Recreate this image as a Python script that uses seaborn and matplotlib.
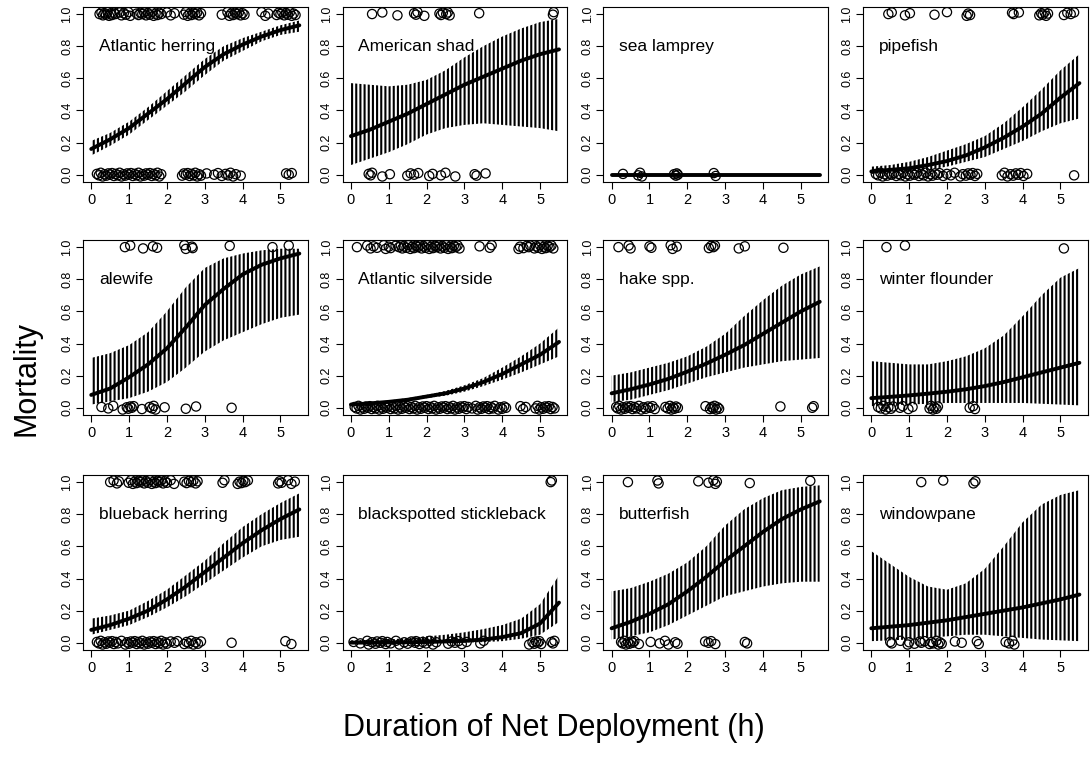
import matplotlib
matplotlib.use("Agg")
import matplotlib.pyplot as plt
import seaborn as sns
import numpy as np
import pandas as pd

# ---------------- data ----------------
species = ["Atlantic herring", "American shad", "sea lamprey", "pipefish",
           "alewife", "Atlantic silverside", "hake spp.", "winter flounder",
           "blueback herring", "blackspotted stickleback", "butterfish", "windowpane"]

grid_x = [0.0, 0.5, 1.0, 1.5, 2.0, 2.5, 3.0, 3.5, 4.0, 4.5, 5.0, 5.5]

fit = {
    "Atlantic herring": [0.16, 0.22, 0.29, 0.38, 0.47, 0.57, 0.67, 0.75, 0.81, 0.86, 0.90, 0.93],
    "American shad": [0.24, 0.28, 0.33, 0.38, 0.44, 0.50, 0.56, 0.61, 0.66, 0.71, 0.75, 0.78],
    "sea lamprey": [0.0, 0.0, 0.0, 0.0, 0.0, 0.0, 0.0, 0.0, 0.0, 0.0, 0.0, 0.0],
    "pipefish": [0.02, 0.03, 0.04, 0.06, 0.085, 0.12, 0.17, 0.23, 0.30, 0.38, 0.48, 0.57],
    "alewife": [0.08, 0.12, 0.19, 0.27, 0.37, 0.50, 0.64, 0.74, 0.83, 0.89, 0.93, 0.96],
    "Atlantic silverside": [0.02, 0.027, 0.037, 0.05, 0.07, 0.09, 0.12, 0.16, 0.21, 0.27, 0.33, 0.41],
    "hake spp.": [0.09, 0.115, 0.145, 0.18, 0.225, 0.275, 0.33, 0.39, 0.46, 0.53, 0.60, 0.66],
    "winter flounder": [0.06, 0.068, 0.077, 0.088, 0.10, 0.115, 0.135, 0.16, 0.19, 0.22, 0.25, 0.28],
    "blueback herring": [0.08, 0.11, 0.15, 0.20, 0.27, 0.35, 0.44, 0.53, 0.62, 0.70, 0.77, 0.83],
    "blackspotted stickleback": [0.001, 0.001, 0.002, 0.003, 0.005, 0.008, 0.012, 0.02, 0.035, 0.06, 0.12, 0.25],
    "butterfish": [0.09, 0.13, 0.18, 0.24, 0.32, 0.41, 0.51, 0.60, 0.69, 0.77, 0.83, 0.88],
    "windowpane": [0.09, 0.10, 0.11, 0.125, 0.14, 0.16, 0.18, 0.20, 0.22, 0.245, 0.27, 0.30],
}
lower = {
    "Atlantic herring": [0.12, 0.18, 0.25, 0.34, 0.43, 0.52, 0.62, 0.71, 0.77, 0.83, 0.87, 0.89],
    "American shad": [0.06, 0.10, 0.14, 0.19, 0.25, 0.29, 0.31, 0.32, 0.31, 0.30, 0.29, 0.27],
    "sea lamprey": [0.0, 0.0, 0.0, 0.0, 0.0, 0.0, 0.0, 0.0, 0.0, 0.0, 0.0, 0.0],
    "pipefish": [0.005, 0.01, 0.02, 0.03, 0.05, 0.08, 0.11, 0.16, 0.21, 0.27, 0.32, 0.35],
    "alewife": [0.02, 0.04, 0.06, 0.10, 0.16, 0.25, 0.35, 0.42, 0.47, 0.52, 0.56, 0.58],
    "Atlantic silverside": [0.015, 0.02, 0.03, 0.04, 0.06, 0.075, 0.10, 0.135, 0.175, 0.22, 0.27, 0.32],
    "hake spp.": [0.035, 0.05, 0.08, 0.11, 0.15, 0.19, 0.22, 0.25, 0.27, 0.29, 0.30, 0.31],
    "winter flounder": [0.01, 0.015, 0.02, 0.025, 0.03, 0.03, 0.03, 0.03, 0.03, 0.025, 0.02, 0.015],
    "blueback herring": [0.05, 0.08, 0.11, 0.16, 0.22, 0.29, 0.37, 0.45, 0.53, 0.60, 0.64, 0.66],
    "blackspotted stickleback": [0.0, 0.0, 0.0, 0.0, 0.0005, 0.001, 0.002, 0.004, 0.01, 0.025, 0.05, 0.13],
    "butterfish": [0.02, 0.04, 0.065, 0.11, 0.17, 0.23, 0.29, 0.32, 0.35, 0.37, 0.38, 0.38],
    "windowpane": [0.01, 0.015, 0.02, 0.03, 0.04, 0.05, 0.05, 0.04, 0.03, 0.02, 0.015, 0.01],
}
upper = {
    "Atlantic herring": [0.21, 0.26, 0.33, 0.42, 0.52, 0.62, 0.72, 0.80, 0.85, 0.89, 0.93, 0.96],
    "American shad": [0.57, 0.56, 0.55, 0.56, 0.59, 0.65, 0.73, 0.80, 0.86, 0.91, 0.95, 0.97],
    "sea lamprey": [0.0, 0.0, 0.0, 0.0, 0.0, 0.0, 0.0, 0.0, 0.0, 0.0, 0.0, 0.0],
    "pipefish": [0.05, 0.06, 0.08, 0.11, 0.15, 0.19, 0.24, 0.32, 0.42, 0.53, 0.65, 0.75],
    "alewife": [0.31, 0.34, 0.39, 0.47, 0.60, 0.75, 0.87, 0.93, 0.96, 0.98, 0.99, 0.99],
    "Atlantic silverside": [0.025, 0.033, 0.045, 0.06, 0.08, 0.105, 0.14, 0.185, 0.25, 0.32, 0.40, 0.50],
    "hake spp.": [0.20, 0.22, 0.25, 0.28, 0.32, 0.38, 0.46, 0.57, 0.67, 0.76, 0.83, 0.88],
    "winter flounder": [0.29, 0.28, 0.27, 0.27, 0.29, 0.32, 0.37, 0.45, 0.57, 0.70, 0.81, 0.87],
    "blueback herring": [0.15, 0.17, 0.20, 0.26, 0.33, 0.42, 0.51, 0.62, 0.72, 0.80, 0.87, 0.93],
    "blackspotted stickleback": [0.015, 0.018, 0.02, 0.03, 0.04, 0.05, 0.065, 0.085, 0.11, 0.15, 0.24, 0.42],
    "butterfish": [0.32, 0.34, 0.38, 0.43, 0.50, 0.60, 0.73, 0.83, 0.90, 0.95, 0.97, 0.98],
    "windowpane": [0.57, 0.49, 0.41, 0.35, 0.33, 0.37, 0.46, 0.60, 0.75, 0.86, 0.92, 0.95],
}

# observed durations of dead (1) and live (0) fish
dead = {
    "Atlantic herring": [0.22, 0.27, 0.31, 0.35, 0.39, 0.43, 0.47, 0.51, 0.55, 0.6, 0.64, 0.75, 0.8, 0.86, 0.92,
                         0.98, 1.03, 1.2, 1.25, 1.3, 1.35, 1.4, 1.45, 1.5, 1.55, 1.6, 1.65, 1.7, 1.75, 1.8, 1.85,
                         2.0, 2.1, 2.2, 2.45, 2.5, 2.55, 2.6, 2.65, 2.7, 2.75, 2.8, 2.85, 2.9, 3.45, 3.6, 3.65,
                         3.7, 3.75, 3.8, 3.85, 3.9, 3.95, 4.0, 4.05, 4.5, 4.6, 4.68, 4.9, 4.95, 5.0, 5.05, 5.1,
                         5.15, 5.2, 5.25, 5.3, 5.35, 5.4],
    "American shad": [0.56, 0.83, 1.23, 1.67, 1.72, 1.76, 1.94, 2.34, 2.38, 2.43, 2.52, 2.56, 2.61, 3.39, 5.34, 5.36],
    "sea lamprey": [],
    "pipefish": [0.45, 0.54, 0.89, 1.02, 1.67, 2.0, 2.52, 2.56, 2.61, 3.72, 3.76, 3.9, 4.44, 4.49, 4.53, 4.58,
                 4.62, 4.67, 5.09, 5.18, 5.27, 5.36],
    "alewife": [0.89, 1.03, 1.37, 1.63, 1.74, 2.46, 2.5, 2.66, 2.68, 3.66, 4.79, 5.22],
    "Atlantic silverside": [0.16, 0.43, 0.52, 0.6, 0.69, 0.87, 0.92, 1.0, 1.05, 1.18, 1.27, 1.32, 1.36, 1.4, 1.47,
                            1.52, 1.57, 1.62, 1.67, 1.72, 1.77, 1.82, 1.87, 1.92, 1.97, 2.02, 2.07, 2.12, 2.17,
                            2.22, 2.27, 2.32, 2.37, 2.42, 2.47, 2.52, 2.57, 2.62, 2.67, 2.72, 2.77, 2.82, 2.87,
                            3.4, 3.67, 3.72, 4.43, 4.47, 4.56, 4.65, 4.7, 4.74, 4.85, 4.9, 4.95, 5.0, 5.05, 5.1,
                            5.15, 5.2, 5.25, 5.3, 5.35],
    "hake spp.": [0.18, 0.45, 0.5, 1.0, 1.05, 1.56, 1.61, 1.72, 2.57, 2.63, 2.69, 2.73, 3.36, 3.52, 4.54],
    "winter flounder": [0.4, 0.89, 5.09],
    "blueback herring": [0.5, 0.59, 0.68, 0.73, 0.99, 1.05, 1.1, 1.15, 1.2, 1.25, 1.3, 1.35, 1.4, 1.45, 1.5, 1.55,
                         1.6, 1.65, 1.7, 1.75, 1.8, 1.85, 1.9, 1.95, 2.0, 2.1, 2.19, 2.46, 2.52, 2.58, 2.64,
                         2.7, 2.76, 2.81, 3.47, 3.52, 3.87, 3.92, 3.97, 4.02, 4.07, 4.14, 4.94, 4.98, 5.03,
                         5.2, 5.29, 5.38],
    "blackspotted stickleback": [5.28, 5.31],
    "butterfish": [0.43, 1.21, 1.24, 2.29, 2.56, 2.69, 2.74, 2.78, 3.65, 5.25],
    "windowpane": [1.32, 1.9, 2.7, 2.75],
}
alive = {
    "Atlantic herring": [0.15, 0.2, 0.25, 0.3, 0.35, 0.4, 0.45, 0.5, 0.55, 0.6, 0.65, 0.7, 0.75, 0.8, 0.85, 0.9,
                         0.95, 1.0, 1.05, 1.1, 1.15, 1.2, 1.25, 1.3, 1.35, 1.4, 1.45, 1.5, 1.55, 1.6, 1.65, 1.7,
                         1.75, 1.8, 1.85, 2.4, 2.45, 2.5, 2.55, 2.6, 2.65, 2.7, 2.75, 2.8, 2.85, 2.9, 3.05, 3.25,
                         3.35, 3.45, 3.55, 3.62, 3.68, 3.75, 3.82, 3.95, 5.15, 5.22, 5.3],
    "American shad": [0.47, 0.52, 0.56, 0.83, 1.03, 1.49, 1.58, 1.67, 1.78, 2.07, 2.16, 2.38, 2.5, 2.76, 3.27,
                      3.32, 3.56],
    "sea lamprey": [0.3, 0.7, 0.75, 0.8, 1.65, 1.7, 1.72, 1.75, 2.7, 2.75],
    "pipefish": [0.12, 0.18, 0.24, 0.3, 0.36, 0.42, 0.48, 0.54, 0.6, 0.66, 0.72, 0.78, 0.84, 0.9, 0.96, 1.02,
                 1.08, 1.14, 1.2, 1.26, 1.32, 1.38, 1.44, 1.5, 1.56, 1.62, 1.68, 1.74, 1.8, 1.9, 2.0, 2.1, 2.2,
                 2.35, 2.42, 2.5, 2.56, 2.62, 2.68, 2.74, 2.8, 3.45, 3.52, 3.6, 3.68, 3.75, 3.82, 3.88, 3.95,
                 4.02, 4.12, 5.36],
    "alewife": [0.27, 0.45, 0.58, 0.83, 0.94, 0.98, 1.03, 1.07, 1.12, 1.34, 1.54, 1.61, 1.65, 1.7, 1.94, 2.5,
                2.77, 3.71],
    "Atlantic silverside": [0.1, 0.15, 0.2, 0.25, 0.3, 0.35, 0.4, 0.45, 0.5, 0.55, 0.6, 0.65, 0.7, 0.75, 0.8,
                            0.85, 0.9, 0.95, 1.0, 1.05, 1.1, 1.15, 1.2, 1.25, 1.3, 1.35, 1.4, 1.45, 1.5, 1.55,
                            1.6, 1.65, 1.7, 1.75, 1.8, 1.85, 1.9, 1.95, 2.0, 2.05, 2.1, 2.15, 2.2, 2.25, 2.3,
                            2.35, 2.4, 2.45, 2.5, 2.55, 2.6, 2.65, 2.7, 2.75, 2.8, 2.85, 2.9, 2.95, 3.0, 3.05,
                            3.1, 3.2, 3.3, 3.35, 3.4, 3.45, 3.5, 3.55, 3.6, 3.65, 3.7, 3.75, 3.8, 3.9, 3.95,
                            4.0, 4.05, 4.1, 4.48, 4.55, 4.62, 4.88, 4.93, 4.98, 5.03, 5.08, 5.13, 5.18, 5.23,
                            5.28, 5.33, 5.38],
    "hake spp.": [0.12, 0.16, 0.2, 0.25, 0.3, 0.35, 0.4, 0.45, 0.5, 0.55, 0.6, 0.65, 0.72, 0.78, 0.84, 0.9, 0.96,
                  1.02, 1.08, 1.14, 1.42, 1.48, 1.54, 1.58, 1.62, 1.66, 1.7, 1.75, 2.48, 2.6, 2.64, 2.68, 2.72,
                  2.76, 2.8, 2.84, 4.46, 5.3, 5.34],
    "winter flounder": [0.18, 0.25, 0.32, 0.38, 0.45, 0.52, 0.58, 0.76, 0.83, 0.98, 1.09, 1.54, 1.58, 1.63, 1.67,
                        1.72, 1.76, 2.6, 2.69, 2.74],
    "blueback herring": [0.15, 0.2, 0.25, 0.3, 0.35, 0.4, 0.45, 0.5, 0.55, 0.6, 0.65, 0.7, 0.8, 0.9, 0.95, 1.0,
                         1.05, 1.1, 1.15, 1.2, 1.25, 1.3, 1.35, 1.4, 1.45, 1.5, 1.55, 1.6, 1.65, 1.7, 1.75, 1.8,
                         1.85, 1.9, 1.95, 2.0, 2.1, 2.2, 2.28, 2.46, 2.52, 2.58, 2.64, 2.7, 2.76, 2.82, 2.9, 3.71,
                         5.13, 5.29],
    "blackspotted stickleback": [0.07, 0.25, 0.43, 0.47, 0.56, 0.65, 0.69, 0.78, 0.83, 0.92, 0.96, 1.05, 1.19,
                                 1.28, 1.41, 1.5, 1.6, 1.7, 1.72, 1.81, 1.9, 1.99, 2.08, 2.17, 2.26, 2.57, 2.66,
                                 2.75, 2.84, 2.93, 3.06, 3.42, 3.51, 4.71, 4.8, 4.85, 4.89, 4.94, 4.98, 5.03,
                                 5.3, 5.34, 5.38],
    "butterfish": [0.25, 0.29, 0.34, 0.38, 0.43, 0.47, 0.52, 0.56, 0.6, 0.72, 1.03, 1.27, 1.41, 1.5, 1.68, 1.74,
                   2.47, 2.56, 2.63, 2.74, 3.52, 3.58],
    "windowpane": [0.5, 0.54, 0.77, 0.96, 1.0, 1.14, 1.28, 1.32, 1.41, 1.54, 1.59, 1.63, 1.72, 1.77, 1.81, 1.86,
                   2.21, 2.39, 2.79, 2.84, 3.55, 3.64, 3.73, 3.78],
}

x_ticks = [0, 1, 2, 3, 4, 5]
y_ticks = [0.0, 0.2, 0.4, 0.6, 0.8, 1.0]
y_tick_labels = ["0.0", "0.2", "0.4", "0.6", "0.8", "1.0"]
x_label = "Duration of Net Deployment (h)"
y_label = "Mortality"

# small vertical jitter used only for display of overlapping points
JITTER = [0.0, 0.010, -0.008, 0.005, -0.004, 0.012, -0.011, 0.003, -0.006, 0.008]

# ---------------- style ----------------
sns.set_style("ticks")
plt.rcParams["font.family"] = ["Liberation Sans", "DejaVu Sans"]
plt.rcParams["hatch.linewidth"] = 1.5
for key in ["text.color", "axes.labelcolor", "xtick.color", "ytick.color", "axes.edgecolor"]:
    plt.rcParams[key] = "black"

fig = plt.figure(figsize=(10.91, 7.58), dpi=100)

lefts = [0.076, 0.314, 0.553, 0.791]
bottoms = [0.760, 0.4525, 0.1425]
W, H = 0.206, 0.231

for i, sp in enumerate(species):
    r, c = divmod(i, 4)
    ax = fig.add_axes([lefts[c], bottoms[r], W, H])

    # confidence band drawn as vertical hatching
    ax.fill_between(grid_x, lower[sp], upper[sp], facecolor="none", edgecolor="black",
                    hatch="||||", linewidth=0, zorder=1)

    # observations
    xs = dead[sp] + alive[sp]
    ys = [1.0 + JITTER[k % len(JITTER)] for k in range(len(dead[sp]))] + \
         [0.0 + JITTER[(k + 3) % len(JITTER)] for k in range(len(alive[sp]))]
    pts = pd.DataFrame({"x": xs, "y": ys})
    if len(pts):
        sns.scatterplot(data=pts, x="x", y="y", ax=ax, s=44, facecolor="none",
                        edgecolor="black", linewidth=0.9, zorder=3)

    # fitted curve
    curve = pd.DataFrame({"x": grid_x, "y": fit[sp]})
    sns.lineplot(data=curve, x="x", y="y", ax=ax, color="black", linewidth=2.8, zorder=4)

    ax.text(0.2, 0.80, sp, fontsize=12.5, ha="left", va="center", color="black", zorder=5)

    ax.set_xlim(-0.22, 5.72)
    ax.set_ylim(-0.045, 1.045)
    ax.set_xticks(x_ticks)
    ax.set_xticklabels([str(t) for t in x_ticks])
    ax.set_yticks(y_ticks)
    ax.set_yticklabels(y_tick_labels, rotation=90, va="center")
    ax.tick_params(axis="both", direction="out", length=5, width=0.8, colors="black")
    ax.tick_params(axis="x", labelsize=10.5, pad=3)
    ax.tick_params(axis="y", labelsize=9, pad=2)
    ax.set_xlabel("")
    ax.set_ylabel("")
    for s in ax.spines.values():
        s.set_visible(True)
        s.set_linewidth(0.8)
        s.set_color("black")

fig.text(0.508, 0.040, x_label, fontsize=22, ha="center", va="center", color="black")
fig.text(0.024, 0.500, y_label, fontsize=22, ha="center", va="center", rotation=90, color="black")

fig.savefig("out.png", dpi=100)
